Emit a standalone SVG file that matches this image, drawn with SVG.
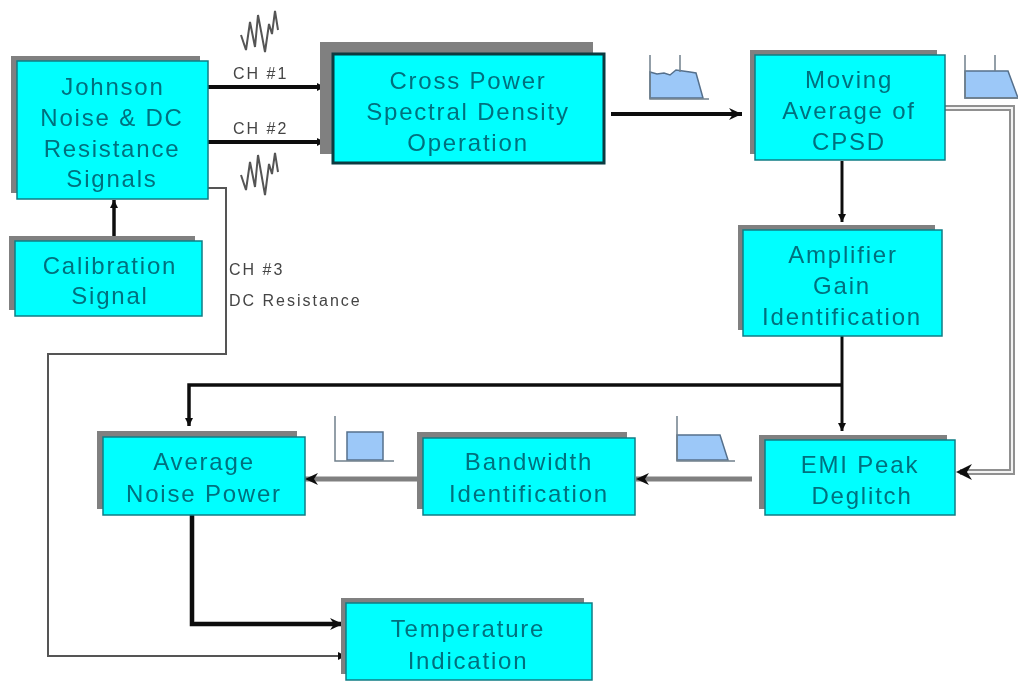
<svg xmlns="http://www.w3.org/2000/svg" width="1018" height="681" viewBox="0 0 1018 681">
<style>
.s{fill:#808080}
.b{fill:#00ffff;stroke:#0f7d85;stroke-width:1.5}
.t{font-family:"Liberation Sans",Arial,sans-serif;font-size:24px;fill:#04707e;text-anchor:middle;letter-spacing:1.8px}
.l{font-family:"Liberation Sans",Arial,sans-serif;font-size:16px;fill:#444;letter-spacing:2px}
.c{fill:none;stroke:#111}
.g{fill:none;stroke:#808080}
.sp{fill:#9cc8f8;stroke:#55708c;stroke-width:1.5}
.ax{fill:none;stroke:#70808c;stroke-width:1.5}
.w{fill:none;stroke:#555;stroke-width:2}
</style>
<defs>
<filter id="soft" x="0" y="0" width="1018" height="681" filterUnits="userSpaceOnUse"><feGaussianBlur stdDeviation="0.7"/></filter>
<marker id="a" markerUnits="userSpaceOnUse" markerWidth="14" markerHeight="12" refX="13" refY="6" orient="auto"><path d="M0 0L13 6L0 12L4 6Z" fill="#111"/></marker>
<marker id="as" markerUnits="userSpaceOnUse" markerWidth="9" markerHeight="10" refX="8" refY="5" orient="auto"><path d="M0 1L8 5L0 9Z" fill="#111"/></marker>
</defs>
<rect width="1018" height="681" fill="#fff"/>
<g filter="url(#soft)">
<g id="connectors">
<path class="c" stroke-width="4" d="M208 87H325" marker-end="url(#as)"/>
<path class="c" stroke-width="4" d="M208 142H325" marker-end="url(#as)"/>
<path class="c" stroke-width="3.5" d="M114 241V200" marker-end="url(#as)"/>
<path class="c" stroke-width="4" d="M611 114H742" marker-end="url(#a)"/>
<path class="c" stroke-width="3" d="M842 161V222" marker-end="url(#as)"/>
<path class="c" stroke-width="3" d="M842 336V431" marker-end="url(#as)"/>
<path class="c" stroke-width="3.5" d="M842 385H189V426" marker-end="url(#as)"/>
<path class="g" stroke-width="5" d="M752 479H636" marker-end="url(#a)"/>
<path class="g" stroke-width="5" d="M418 479H305" marker-end="url(#a)"/>
<path d="M945 108H1012V472H960" fill="none" stroke="#909090" stroke-width="6"/>
<path d="M945 108H1012V472H960" fill="none" stroke="#f2f2f2" stroke-width="2"/>
<path d="M972 464L956 472L972 480L967 472Z" fill="#111"/>
<path class="c" stroke-width="4.5" d="M192 515V624H343" marker-end="url(#a)"/>
<path fill="none" stroke="#555" stroke-width="2" d="M208 188H226V354H48V656H346" marker-end="url(#as)"/>
</g>
<g id="node-johnson">
<rect class="s" x="11" y="56" width="189" height="137"/><rect class="b" x="17" y="61" width="191" height="138"/>
<text class="t" x="113" y="95">Johnson</text><text class="t" x="112" y="126">Noise &amp; DC</text><text class="t" x="112" y="157">Resistance</text><text class="t" x="112" y="187">Signals</text>
</g>
<g id="node-calibration">
<rect class="s" x="9" y="236" width="186" height="74"/><rect class="b" x="15" y="241" width="187" height="75"/>
<text class="t" x="110" y="274">Calibration</text><text class="t" x="110" y="304">Signal</text>
</g>
<g id="node-cpsd">
<rect class="s" x="320" y="42" width="273" height="112"/><rect x="333" y="54" width="271" height="109" fill="#00ffff" stroke="#0a3a40" stroke-width="3"/>
<text class="t" x="468" y="89">Cross Power</text><text class="t" x="468" y="120">Spectral Density</text><text class="t" x="468" y="151">Operation</text>
</g>
<g id="node-moving">
<rect class="s" x="750" y="50" width="187" height="104"/><rect class="b" x="755" y="55" width="190" height="105"/>
<text class="t" x="849" y="88">Moving</text><text class="t" x="849" y="119">Average of</text><text class="t" x="849" y="150">CPSD</text>
</g>
<g id="node-amplifier">
<rect class="s" x="738" y="225" width="197" height="105"/><rect class="b" x="743" y="230" width="199" height="106"/>
<text class="t" x="843" y="263">Amplifier</text><text class="t" x="842" y="294">Gain</text><text class="t" x="842" y="325">Identification</text>
</g>
<g id="node-emi">
<rect class="s" x="759" y="435" width="188" height="74"/><rect class="b" x="765" y="440" width="190" height="75"/>
<text class="t" x="860" y="473">EMI Peak</text><text class="t" x="862" y="504">Deglitch</text>
</g>
<g id="node-bandwidth">
<rect class="s" x="417" y="432" width="210" height="77"/><rect class="b" x="423" y="438" width="212" height="77"/>
<text class="t" x="529" y="470">Bandwidth</text><text class="t" x="529" y="502">Identification</text>
</g>
<g id="node-average">
<rect class="s" x="97" y="431" width="200" height="78"/><rect class="b" x="103" y="437" width="202" height="78"/>
<text class="t" x="204" y="470">Average</text><text class="t" x="204" y="502">Noise Power</text>
</g>
<g id="node-temperature">
<rect class="s" x="341" y="598" width="243" height="76"/><rect class="b" x="346" y="603" width="246" height="77"/>
<text class="t" x="468" y="637">Temperature</text><text class="t" x="468" y="669">Indication</text>
</g>
<g id="labels">
<text class="l" x="233" y="79">CH #1</text><text class="l" x="233" y="134">CH #2</text>
<text class="l" x="229" y="275">CH #3</text><text class="l" x="229" y="306">DC Resistance</text>
</g>
<g id="signals">
<path class="w" d="M241 35L246 50L250 22L255 47L258 15L265 52L269 24L272 34L275 11L278 30"/>
<path class="w" d="M241 175L246 190L250 162L255 187L258 155L265 195L269 164L272 174L275 153L278 172"/>
<path class="sp" d="M650 72L657 74L664 73L670 75L676 70L690 72L696 73L703 98H650Z"/>
<path class="ax" d="M650 55V99H709M680 55V72"/>
<path class="sp" d="M965 71H1008L1018 98H965Z"/>
<path class="ax" d="M965 55V98H1018M995 55V71"/>
<path class="sp" d="M347 432H383V460H347Z"/>
<path class="ax" d="M335 416V461H394"/>
<path class="sp" d="M677 435H720L728 460H677Z"/>
<path class="ax" d="M677 416V461H735"/>
</g>
</g>
</svg>
